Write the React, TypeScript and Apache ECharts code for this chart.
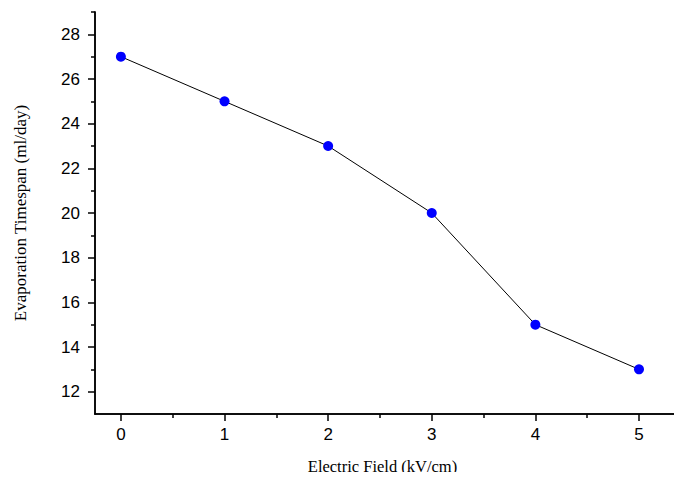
import React, { useEffect, useRef } from "react";
import * as echarts from "echarts";

const fieldValues = [0, 1, 2, 3, 4, 5];
const evaporation = [27, 25, 23, 20, 15, 13];
const xMajorTicks = [0, 1, 2, 3, 4, 5];
const xMinorTicks = [0.5, 1.5, 2.5, 3.5, 4.5];
const yMajorTicks = [12, 14, 16, 18, 20, 22, 24, 26, 28];
const yMinorTicks = [13, 15, 17, 19, 21, 23, 25, 27, 29];

const X_MIN = -0.25;
const X_MAX = 5.415;
const Y_MIN = 11;
const Y_MAX = 29;

export default function App() {
  const ref = useRef<HTMLDivElement>(null);
  useEffect(() => {
    if (!ref.current) return;
    const chart = echarts.init(ref.current, undefined, { renderer: "svg" });
    const axisLine = { show: true, onZero: false, lineStyle: { color: "#000", width: 1.5 } };
    const labelFont = {
      fontFamily: "'Liberation Sans', Arial, sans-serif",
      fontSize: 17,
      color: "#000",
    };
    chart.setOption({
      animation: false,
      backgroundColor: "#fff",
      grid: { left: 95, right: 0, top: 12, bottom: 66, containLabel: false },
      xAxis: [
        {
          type: "value",
          min: X_MIN,
          max: X_MAX,
          axisLine,
          splitLine: { show: false },
          axisTick: {
            show: true,
            inside: false,
            length: 7,
            customValues: xMajorTicks,
            lineStyle: { color: "#000", width: 1.5 },
          },
          axisLabel: { show: true, customValues: xMajorTicks, margin: 12, ...labelFont },
          name: "Electric Field (kV/cm)",
          nameLocation: "middle",
          nameGap: 44,
          nameTextStyle: {
            fontFamily: "'Liberation Serif', 'Times New Roman', serif",
            fontSize: 16.5,
            color: "#000",
            padding: [0, 12, 0, 0],
          },
        },
        {
          type: "value",
          position: "bottom",
          min: X_MIN,
          max: X_MAX,
          axisLine,
          splitLine: { show: false },
          axisTick: {
            show: true,
            inside: false,
            length: 4,
            customValues: xMinorTicks,
            lineStyle: { color: "#000", width: 1.5 },
          },
          axisLabel: { show: false },
        },
      ],
      yAxis: [
        {
          type: "value",
          min: Y_MIN,
          max: Y_MAX,
          axisLine,
          splitLine: { show: false },
          axisTick: {
            show: true,
            inside: false,
            length: 7,
            customValues: yMajorTicks,
            lineStyle: { color: "#000", width: 1.5 },
          },
          axisLabel: { show: true, customValues: yMajorTicks, margin: 15, ...labelFont },
          name: "Evaporation Timespan (ml/day)",
          nameLocation: "middle",
          nameGap: 66,
          nameTextStyle: {
            fontFamily: "'Liberation Serif', 'Times New Roman', serif",
            fontSize: 17,
            color: "#000",
          },
        },
        {
          type: "value",
          position: "left",
          min: Y_MIN,
          max: Y_MAX,
          axisLine,
          splitLine: { show: false },
          axisTick: {
            show: true,
            inside: false,
            length: 4,
            customValues: yMinorTicks,
            lineStyle: { color: "#000", width: 1.5 },
          },
          axisLabel: { show: false },
        },
      ],
      series: [
        {
          type: "line",
          xAxisIndex: 0,
          yAxisIndex: 0,
          data: fieldValues.map((x, i) => [x, evaporation[i]]),
          symbol: "circle",
          symbolSize: 10,
          itemStyle: { color: "#0000ff" },
          lineStyle: { color: "#000", width: 1 },
        },
      ],
    });
    return () => chart.dispose();
  }, []);
  return <div ref={ref} style={{ width: 682, height: 480, margin: -8 }} />;
}
